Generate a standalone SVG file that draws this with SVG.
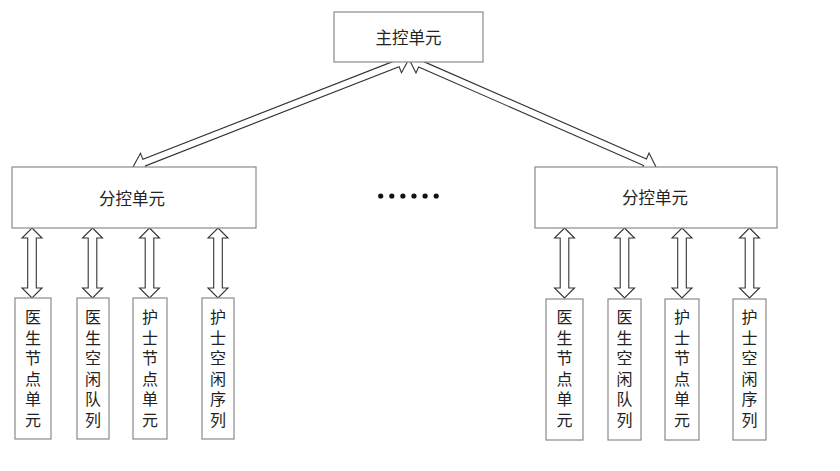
<svg xmlns="http://www.w3.org/2000/svg" width="840" height="471" viewBox="0 0 840 471">
<style>
.box{fill:#fff;stroke:#8a8a8a;stroke-width:1.2}
.arr{fill:#fff;stroke:#333;stroke-width:1.1;stroke-linejoin:miter}
.t{font-family:"Noto Sans CJK SC","Noto Sans",sans-serif;font-size:16.5px;fill:#222;text-anchor:middle;dominant-baseline:central}
.v{font-family:"Noto Sans CJK SC","Noto Sans",sans-serif;font-size:16px;fill:#222;writing-mode:vertical-rl;letter-spacing:4.6px}
.dot{fill:#111}
</style>
<rect width="840" height="471" fill="#fff"/>
<g id="connectors">
  <polygon class="arr" transform="translate(409,59) rotate(158.63)" points="0,0 12,-10 12,-3.5 284.4,-3.5 284.4,-10 296.4,0 284.4,10 284.4,3.5 12,3.5 12,10"/>
  <polygon class="arr" transform="translate(409,59) rotate(23.62)" points="0,0 12,-10 12,-3.5 257.6,-3.5 257.6,-10 269.6,0 257.6,10 257.6,3.5 12,3.5 12,10"/>
  <g id="v-left">
    <polygon class="arr" transform="translate(32,0)" points="0,228 10,238 4.3,238 4.3,288 10,288 0,298 -10,288 -4.3,288 -4.3,238 -10,238"/>
    <polygon class="arr" transform="translate(92.5,0)" points="0,228 10,238 4.3,238 4.3,288 10,288 0,298 -10,288 -4.3,288 -4.3,238 -10,238"/>
    <polygon class="arr" transform="translate(149.5,0)" points="0,228 10,238 4.3,238 4.3,288 10,288 0,298 -10,288 -4.3,288 -4.3,238 -10,238"/>
    <polygon class="arr" transform="translate(218,0)" points="0,228 10,238 4.3,238 4.3,288 10,288 0,298 -10,288 -4.3,288 -4.3,238 -10,238"/>
  </g>
  <g id="v-right">
    <polygon class="arr" transform="translate(564.5,0)" points="0,228 10,238 4.3,238 4.3,288 10,288 0,298 -10,288 -4.3,288 -4.3,238 -10,238"/>
    <polygon class="arr" transform="translate(624.5,0)" points="0,228 10,238 4.3,238 4.3,288 10,288 0,298 -10,288 -4.3,288 -4.3,238 -10,238"/>
    <polygon class="arr" transform="translate(682,0)" points="0,228 10,238 4.3,238 4.3,288 10,288 0,298 -10,288 -4.3,288 -4.3,238 -10,238"/>
    <polygon class="arr" transform="translate(749.5,0)" points="0,228 10,238 4.3,238 4.3,288 10,288 0,298 -10,288 -4.3,288 -4.3,238 -10,238"/>
  </g>
</g>
<g id="main">
  <rect class="box" x="334" y="12" width="149" height="50"/>
  <text class="t" x="408.5" y="37">主控单元</text>
</g>
<g id="sub-left">
  <rect class="box" x="12" y="167" width="244" height="61"/>
  <text class="t" x="132" y="198">分控单元</text>
</g>
<g id="sub-right">
  <rect class="box" x="535" y="167" width="242" height="61"/>
  <text class="t" x="655" y="197">分控单元</text>
</g>
<g id="dots">
  <circle class="dot" cx="380.7" cy="196" r="2.6"/>
  <circle class="dot" cx="391.8" cy="196" r="2.6"/>
  <circle class="dot" cx="402.9" cy="196" r="2.6"/>
  <circle class="dot" cx="414" cy="196" r="2.6"/>
  <circle class="dot" cx="425.1" cy="196" r="2.6"/>
  <circle class="dot" cx="436.2" cy="196" r="2.6"/>
</g>
<g id="leaf-l1">
  <rect class="box" x="15" y="298" width="36" height="141"/>
  <text class="v" x="33" y="309">医生节点单元</text>
</g>
<g id="leaf-l2">
  <rect class="box" x="77" y="298" width="32" height="141"/>
  <text class="v" x="93" y="309">医生空闲队列</text>
</g>
<g id="leaf-l3">
  <rect class="box" x="133" y="298" width="34" height="141"/>
  <text class="v" x="150" y="309">护士节点单元</text>
</g>
<g id="leaf-l4">
  <rect class="box" x="202" y="298" width="32" height="141"/>
  <text class="v" x="218" y="309">护士空闲序列</text>
</g>
<g id="leaf-r1">
  <rect class="box" x="546" y="299" width="37" height="141"/>
  <text class="v" x="564.5" y="309">医生节点单元</text>
</g>
<g id="leaf-r2">
  <rect class="box" x="608" y="299" width="33" height="141"/>
  <text class="v" x="624.5" y="309">医生空闲队列</text>
</g>
<g id="leaf-r3">
  <rect class="box" x="665" y="299" width="34" height="141"/>
  <text class="v" x="682" y="309">护士节点单元</text>
</g>
<g id="leaf-r4">
  <rect class="box" x="733" y="299" width="33" height="141"/>
  <text class="v" x="749.5" y="309">护士空闲序列</text>
</g>
</svg>
